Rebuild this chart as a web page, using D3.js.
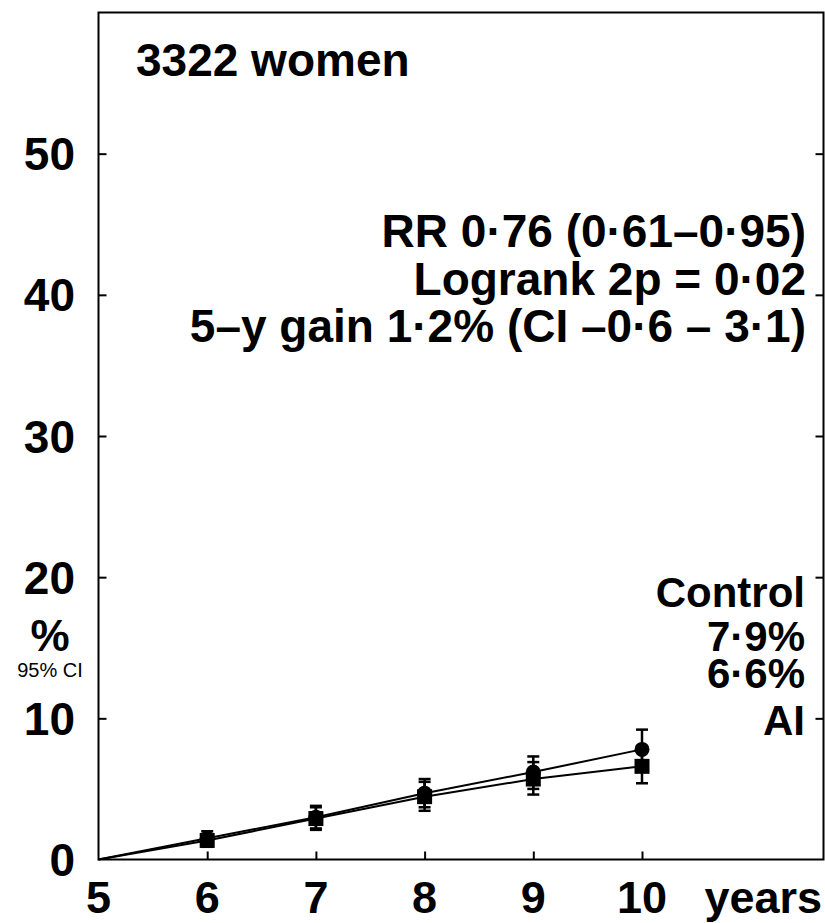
<!DOCTYPE html>
<html>
<head>
<meta charset="utf-8">
<script src="https://cdn.jsdelivr.net/npm/d3@7/dist/d3.min.js"></script>
<style>
  html, body { margin: 0; padding: 0; background: #fff; }
  svg { display: block; }
  text { font-family: "Liberation Sans", Arial, Helvetica, sans-serif; fill: #000; }
</style>
</head>
<body>
<script>
// ---- data ----
const years = [5, 6, 7, 8, 9, 10];
const controlPct = [0, 1.5, 3.0, 4.7, 6.2, 7.8];
const controlLo  = [null, 1.0, 2.2, 3.7, 5.0, 6.4];
const controlHi  = [null, 2.0, 3.8, 5.7, 7.3, 9.2];
const aiPct = [0, 1.35, 2.9, 4.45, 5.7, 6.6];
const aiLo  = [null, 0.9, 2.1, 3.45, 4.6, 5.4];
const aiHi  = [null, 1.8, 3.7, 5.5, 6.9, 7.85];
const xTicks = [5, 6, 7, 8, 9, 10];
const yTicks = [0, 10, 20, 30, 40, 50];
const statsLines = ["RR 0·76 (0·61–0·95)", "Logrank 2p = 0·02", "5–y gain 1·2% (CI –0·6 – 3·1)"];
const legendLines = ["Control", "7·9%", "6·6%", "AI"];

// ---- layout ----
const W = 825, H = 923;
const mLeft = 98.5, mRight = 823.5, mTop = 12.5, mBottom = 859.5;

const svg = d3.select("body").append("svg").attr("width", W).attr("height", H);

const x = d3.scaleLinear().domain([5, 10]).range([mLeft, 642]);
const y = d3.scaleLinear().domain([0, 60]).range([mBottom, mTop]);

// frame
svg.append("rect")
  .attr("x", mLeft).attr("y", mTop)
  .attr("width", mRight - mLeft).attr("height", mBottom - mTop)
  .attr("fill", "none").attr("stroke", "#000").attr("stroke-width", 2);

// inward ticks
const yAxisL = d3.axisRight(y).tickValues(yTicks.filter(d => d > 0)).tickSize(8).tickFormat("");
const gL = svg.append("g").attr("transform", `translate(${mLeft},0)`).call(yAxisL);
gL.select(".domain").remove();
gL.selectAll(".tick line").attr("stroke", "#000").attr("stroke-width", 2);

const yAxisR = d3.axisLeft(y).tickValues(yTicks.filter(d => d > 0)).tickSize(8).tickFormat("");
const gR = svg.append("g").attr("transform", `translate(${mRight},0)`).call(yAxisR);
gR.select(".domain").remove();
gR.selectAll(".tick line").attr("stroke", "#000").attr("stroke-width", 2);

const xAxisB = d3.axisTop(x).tickValues(xTicks.filter(d => d > 5)).tickSize(8).tickFormat("");
const gB = svg.append("g").attr("transform", `translate(0,${mBottom})`).call(xAxisB);
gB.select(".domain").remove();
gB.selectAll(".tick line").attr("stroke", "#000").attr("stroke-width", 2);

// y tick labels
svg.append("g").selectAll("text").data(yTicks).join("text")
  .attr("x", 75).attr("y", d => y(d))
  .attr("dy", "0.36em")
  .attr("text-anchor", "end")
  .attr("font-size", 46).attr("font-weight", "bold")
  .text(d => d);

// x tick labels
svg.append("g").selectAll("text").data(xTicks).join("text")
  .attr("x", d => x(d)).attr("y", 913)
  .attr("text-anchor", "middle")
  .attr("font-size", 45).attr("font-weight", "bold")
  .text(d => d);

svg.append("text").attr("x", 822).attr("y", 913)
  .attr("text-anchor", "end").attr("font-size", 45).attr("font-weight", "bold")
  .text("years");

// y axis title
svg.append("text").attr("x", 50).attr("y", 651)
  .attr("text-anchor", "middle").attr("font-size", 44).attr("font-weight", "bold")
  .text("%");
svg.append("text").attr("x", 50).attr("y", 677)
  .attr("text-anchor", "middle").attr("font-size", 20)
  .text("95% CI");

// headline
svg.append("text").attr("x", 136).attr("y", 76)
  .attr("font-size", 46).attr("font-weight", "bold")
  .text("3322 women");

// stats block
svg.append("g").selectAll("text").data(statsLines).join("text")
  .attr("x", 806).attr("y", (d, i) => 247 + i * 47.5)
  .attr("text-anchor", "end").attr("font-size", 46).attr("font-weight", "bold")
  .text(d => d);

// legend block
const legendY = [607, 651, 688, 735];
svg.append("g").selectAll("text").data(legendLines).join("text")
  .attr("x", 805).attr("y", (d, i) => legendY[i])
  .attr("text-anchor", "end").attr("font-size", 42).attr("font-weight", "bold")
  .text(d => d);

// ---- series ----
const line = d3.line().x(d => x(d[0])).y(d => y(d[1]));
const ctrl = years.map((yr, i) => [yr, controlPct[i], controlLo[i], controlHi[i]]);
const ai = years.map((yr, i) => [yr, aiPct[i], aiLo[i], aiHi[i]]);

[ctrl, ai].forEach(s => {
  svg.append("path").datum(s).attr("d", line)
    .attr("fill", "none").attr("stroke", "#000").attr("stroke-width", 2);
});

// error bars
const cap = 6;
[ctrl, ai].forEach(s => {
  const g = svg.append("g").attr("stroke", "#000").attr("stroke-width", 2.5);
  s.filter(d => d[2] !== null).forEach(d => {
    const cx = x(d[0]);
    g.append("line").attr("x1", cx).attr("x2", cx).attr("y1", y(d[2])).attr("y2", y(d[3]));
    g.append("line").attr("x1", cx - cap).attr("x2", cx + cap).attr("y1", y(d[2])).attr("y2", y(d[2]));
    g.append("line").attr("x1", cx - cap).attr("x2", cx + cap).attr("y1", y(d[3])).attr("y2", y(d[3]));
  });
});

// markers
svg.append("g").selectAll("rect").data(ai.filter(d => d[0] > 5)).join("rect")
  .attr("x", d => x(d[0]) - 7.5).attr("y", d => y(d[1]) - 7.5)
  .attr("width", 15).attr("height", 15).attr("fill", "#000");
svg.append("g").selectAll("circle").data(ctrl.filter(d => d[0] > 5)).join("circle")
  .attr("cx", d => x(d[0])).attr("cy", d => y(d[1]))
  .attr("r", 7.5).attr("fill", "#000");
</script>
</body>
</html>
